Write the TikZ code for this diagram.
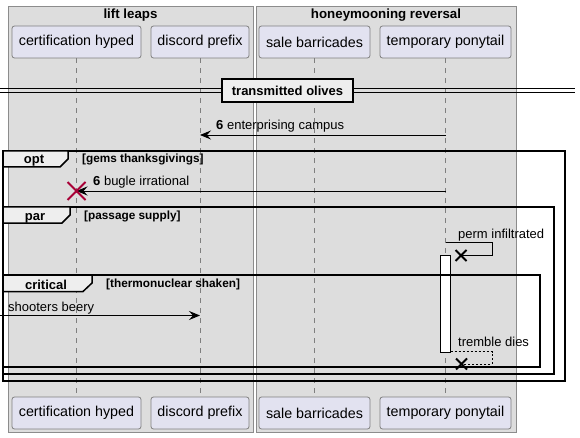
\documentclass[tikz,border=0pt]{standalone}
\usepackage{fontspec}
\setmainfont{Liberation Sans}
\usetikzlibrary{arrows.meta}
\definecolor{grpbg}{HTML}{DDDDDD}
\definecolor{grpline}{HTML}{8C8C8C}
\definecolor{partbg}{HTML}{E2E2F0}
\definecolor{partline}{HTML}{7F7F7F}
\definecolor{tabbg}{HTML}{EEEEEE}
\definecolor{lifeline}{HTML}{7F7F7F}
\definecolor{killred}{HTML}{A80036}
\tikzset{
  grp/.style={fill=grpbg, draw=grpline, line width=0.8pt},
  grptitle/.style={font=\fontsize{13.3}{15}\selectfont\bfseries, inner sep=0pt, anchor=base},
  part/.style={fill=partbg, draw=partline, line width=0.8pt, rounded corners=2.5pt, inner sep=0pt,
    minimum height=32pt, font=\fontsize{14.3}{16}\selectfont},
  life/.style={draw=lifeline, line width=0.7pt, dash pattern=on 5pt off 5pt},
  msg/.style={draw=black, line width=0.9pt, -{Stealth[length=11pt,width=9pt,inset=4pt]}},
  msgline/.style={draw=black, line width=0.9pt},
  mlabel/.style={font=\fontsize{13}{15}\selectfont, inner sep=0pt, anchor=base west},
  frm/.style={draw=black, line width=1.5pt},
  tab/.style={fill=tabbg, draw=black, line width=1.5pt},
  ftitle/.style={font=\fontsize{13}{15}\selectfont\bfseries, inner sep=0pt, anchor=base},
  guard/.style={font=\fontsize{11.8}{13}\selectfont\bfseries, inner sep=0pt, anchor=base west},
  killx/.style={draw=black, line width=2pt},
  activ/.style={fill=white, draw=black, line width=0.9pt},
}
\begin{document}
\begin{tikzpicture}[x=1pt,y=-1pt]
\useasboundingbox (0,0) rectangle (580,438);
% groups
\draw[grp] (8,6) rectangle (253,432);
\draw[grp] (256,6) rectangle (516,432);
\node[grptitle] (g1) at (130.5,19) {lift leaps};
\node[grptitle] (g2) at (386,19) {honeymooning reversal};
% participants
\node[part, minimum width=129pt] (p1) at (76.5,42) {certification hyped};
\node[part, minimum width=98pt] (p2) at (200,42) {discord prefix};
\node[part, minimum width=111pt] (p3) at (314.5,42) {sale barricades};
\node[part, minimum width=131pt] (p4) at (445.5,42) {temporary ponytail};
\node[part, minimum width=129pt] (q1) at (76.5,413) {certification hyped};
\node[part, minimum width=98pt] (q2) at (200,413) {discord prefix};
\node[part, minimum width=111pt] (q3) at (314.5,413) {sale barricades};
\node[part, minimum width=131pt] (q4) at (445.5,413) {temporary ponytail};
% lifelines
\draw[life] (p1.south) -- (q1.north);
\draw[life] (p2.south) -- (q2.north);
\draw[life] (p3.south) -- (q3.north);
\draw[life] (p4.south) -- (q4.north);
% divider
\draw[line width=1pt] (0,89) -- (575,89);
\draw[line width=1pt] (0,93) -- (575,93);
\node[draw=black, line width=2pt, fill=tabbg, minimum width=131pt, minimum height=23pt, inner sep=0pt,
  font=\fontsize{13}{15}\selectfont\bfseries] (div) at (287.5,90.5) {transmitted olives};
% message 1
\coordinate (m1a) at (445.5,135);
\coordinate (m1b) at (200,135);
\draw[msg] (m1a) -- (m1b);
\node[mlabel] (l1) at (216,130) {\textbf{6} enterprising campus};
% opt frame
\draw[frm] (3,151) rectangle (565,381);
\draw[tab] (3,151) -- (68,151) -- (68,159) -- (60,167) -- (3,167) -- cycle;
\node[ftitle] (t1) at (34,164) {opt};
\node[guard] (gd1) at (82,163) {[gems thanksgivings]};
% message 2
\coordinate (m2a) at (445.5,191);
\coordinate (m2b) at (76.5,191);
\draw[msg] (m2a) -- (m2b);
\node[mlabel] (l2) at (93,186) {\textbf{6} bugle irrational};
\draw[draw=killred, line width=2pt] (67.5,182) -- (85.5,200) (67.5,200) -- (85.5,182);
% par frame
\draw[frm] (3,207) rectangle (554,374);
\draw[tab] (3,207) -- (70,207) -- (70,215) -- (62,223) -- (3,223) -- cycle;
\node[ftitle] (t2) at (35,220) {par};
\node[guard] (gd2) at (84,219.5) {[passage supply]};
% self message perm infiltrated
\coordinate (s1a) at (445.5,242);
\coordinate (s1b) at (492,242);
\coordinate (s1c) at (492,255.5);
\coordinate (s1d) at (461,255.5);
\draw[msgline] (s1a) -- (s1b) -- (s1c) -- (s1d);
\draw[killx] (455.5,250) -- (466.5,261) (455.5,261) -- (466.5,250);
\node[mlabel] (l3) at (458,238) {perm infiltrated};
% activation
\draw[activ] (440.5,255) rectangle (450.5,352);
% critical frame
\draw[frm] (3,275) rectangle (540,367);
\draw[tab] (3,275) -- (92,275) -- (92,283) -- (83,291.5) -- (3,291.5) -- cycle;
\node[ftitle] (t3) at (46,289) {critical};
\node[guard] (gd3) at (106,287.5) {[thermonuclear shaken]};
% shooters beery
\coordinate (m4a) at (0,315.5);
\coordinate (m4b) at (200,315.5);
\draw[msg] (m4a) -- (m4b);
\node[mlabel] (l4) at (8,311) {shooters beery};
% tremble dies
\coordinate (s2a) at (450.5,351.5);
\coordinate (s2b) at (492,351.5);
\coordinate (s2c) at (492,364);
\coordinate (s2d) at (461,364);
\draw[draw=black, line width=0.8pt, dash pattern=on 2pt off 2pt] (s2a) -- (s2b) -- (s2c) -- (s2d);
\draw[killx] (456,358.5) -- (467,369.5) (456,369.5) -- (467,358.5);
\node[mlabel] (l5) at (458,346) {tremble dies};
\end{tikzpicture}
\end{document}
